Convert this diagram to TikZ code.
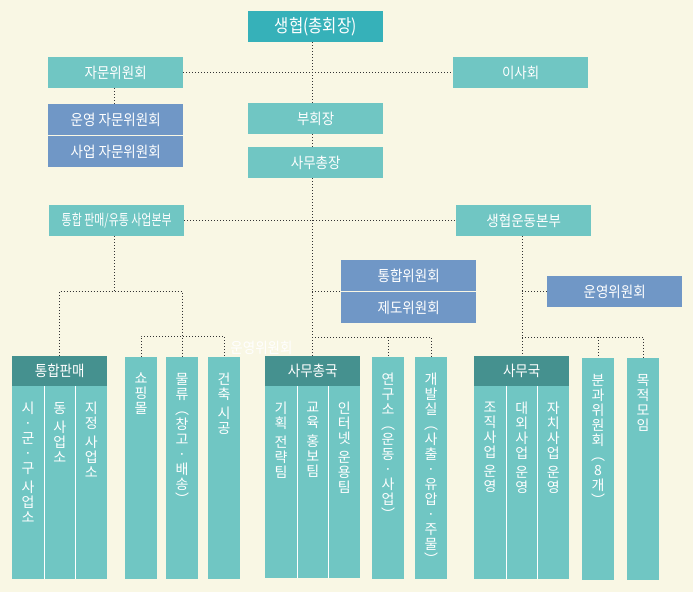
\documentclass[tikz,border=0pt]{standalone}
\usepackage{fontspec}
\newfontfamily\kr{Noto Sans CJK KR}
\usetikzlibrary{calc}
\definecolor{bg}{HTML}{F9F7E4}
\definecolor{topc}{HTML}{36B1B9}
\definecolor{lt}{HTML}{70C6C3}
\definecolor{bl}{HTML}{7097C6}
\definecolor{dk}{HTML}{45918F}
\definecolor{ln}{HTML}{333333}
\newcommand\hx[1]{\scalebox{0.9}[1]{#1}}
\begin{document}
\begin{tikzpicture}[x=1pt,y=-1pt,
  box/.style={rectangle, inner sep=0, minimum width=135pt, minimum height=31pt, anchor=north west, text=white, font=\kr\fontsize{15}{18}\selectfont},
  lbox/.style={box, fill=lt},
  bbox/.style={box, fill=bl},
  hdr/.style={rectangle, inner sep=0, minimum width=95pt, minimum height=30pt, anchor=north west, fill=dk, text=white, font=\kr\fontsize{15}{18}\selectfont},
  col/.style={rectangle, inner sep=0, minimum width=31.667pt, anchor=north west, fill=lt},
  vtxt/.style={inner sep=0, anchor=north, align=center, text=white, yshift=-16pt, font=\kr\fontsize{14}{15}\selectfont},
  conn/.style={draw=ln, line width=1pt, dash pattern=on 1pt off 2pt},
  divl/.style={draw=white, line width=1pt}]
\useasboundingbox (0,0) rectangle (693,592);
\fill[bg] (0,0) rectangle (693,592);

% ghost text
\node[text=white, inner sep=0, font=\kr\fontsize{15}{18}\selectfont] (ghost) at (261.5,348) {\hx{운영위원회}};

% upper boxes
\node[box, fill=topc, font=\kr\fontsize{18}{20}\selectfont] (top) at (248,11) {\scalebox{0.86}[1]{생협(총회장)}};
\node[lbox] (jamun) at (48,57) {\hx{자문위원회}};
\node[lbox] (isa) at (453,57) {\hx{이사회}};
\node[bbox] (ujamun) at (48,104) {\hx{운영 자문위원회}};
\node[bbox] (sjamun) at (48,136) {\hx{사업 자문위원회}};
\node[lbox] (buhoe) at (248,103) {\hx{부회장}};
\node[lbox] (samu) at (248,147) {\hx{사무총장}};
\node[lbox] (tonghap) at (49,205) {\scalebox{0.73}[1]{통합 판매/유통 사업본부}};
\node[lbox] (undong) at (456,205) {\hx{생협운동본부}};
\node[bbox] (tongwi) at (341,260) {\hx{통합위원회}};
\node[bbox] (jedo) at (341,292) {\hx{제도위원회}};
\node[bbox] (unyoung) at (547,276) {\hx{운영위원회}};

% group 1
\node[hdr] (h1) at (12,356) {\hx{통합판매}};
\node[col, minimum height=193pt] (c11) at (12,386) {};
\node[col, minimum height=193pt] (c12) at (43.667,386) {};
\node[col, minimum height=193pt] (c13) at (75.333,386) {};
\draw[divl] (c11.north east) -- (c11.south east);
\draw[divl] (c12.north east) -- (c12.south east);
\node[vtxt] at (c11.north) {시\\·\\군\\·\\구\\[4pt]사\\업\\소};
\node[vtxt] at (c12.north) {동\\[4pt]사\\업\\소};
\node[vtxt] at (c13.north) {지\\정\\[4pt]사\\업\\소};

\node[col, minimum height=222pt] (shop) at (125,357) {};
\node[col, minimum height=222pt] (mul) at (166,357) {};
\node[col, minimum height=222pt] (geon) at (208,357) {};
\node[vtxt] at (shop.north) {쇼\\핑\\몰};
\node[vtxt] at (mul.north) {물\\류\\︵\\창\\고\\·\\배\\송\\︶};
\node[vtxt] at (geon.north) {건\\축\\[4pt]시\\공};

% group 2
\node[hdr] (h2) at (265,356) {\hx{사무총국}};
\node[col, minimum height=192pt] (c21) at (265,386) {};
\node[col, minimum height=192pt] (c22) at (296.667,386) {};
\node[col, minimum height=192pt] (c23) at (328.333,386) {};
\draw[divl] (c21.north east) -- (c21.south east);
\draw[divl] (c22.north east) -- (c22.south east);
\node[vtxt] at (c21.north) {기\\획\\[4pt]전\\략\\팀};
\node[vtxt] at (c22.north) {교\\육\\[4pt]홍\\보\\팀};
\node[vtxt] at (c23.north) {인\\터\\넷\\[4pt]운\\용\\팀};

\node[col, minimum height=222pt] (yeon) at (372,357) {};
\node[col, minimum height=222pt] (gae) at (415,357) {};
\node[vtxt] at (yeon.north) {연\\구\\소\\︵\\운\\동\\·\\사\\업\\︶};
\node[vtxt] at (gae.north) {개\\발\\실\\︵\\사\\출\\·\\유\\압\\·\\주\\물\\︶};

% group 3
\node[hdr] (h3) at (474,356) {\hx{사무국}};
\node[col, minimum height=193pt] (c31) at (474,386) {};
\node[col, minimum height=193pt] (c32) at (505.667,386) {};
\node[col, minimum height=193pt] (c33) at (537.333,386) {};
\draw[divl] (c31.north east) -- (c31.south east);
\draw[divl] (c32.north east) -- (c32.south east);
\node[vtxt] at (c31.north) {조\\직\\사\\업\\[4pt]운\\영};
\node[vtxt] at (c32.north) {대\\외\\사\\업\\[4pt]운\\영};
\node[vtxt] at (c33.north) {자\\치\\사\\업\\[4pt]운\\영};

\node[col, minimum height=222pt] (bun) at (582,358) {};
\node[col, minimum height=222pt] (mok) at (627,358) {};
\node[vtxt] at (bun.north) {분\\과\\위\\원\\회\\︵\\8\\개\\︶};
\node[vtxt] at (mok.north) {목\\적\\모\\임};

% connectors
\coordinate (sp) at (312,0);
\coordinate (jx) at (114,0);
\coordinate (up) at (522,0);
\draw[conn] (top.south -| sp) -- (buhoe.north -| sp);
\draw[conn] (buhoe.south -| sp) -- (samu.north -| sp);
\draw[conn] (samu.south -| sp) -- (h2.north -| sp);
\draw[conn] (jamun.east) -- (isa.west);
\draw[conn] (jamun.south -| jx) -- (ujamun.north -| jx);
\draw[conn] (tonghap.east) -- (undong.west);
\draw[conn] (sp |- tongwi.south) -- (tongwi.south west);
\draw[conn] (undong.south -| up) -- (h3.north -| up);
\draw[conn] (up |- unyoung.west) -- (unyoung.west);

\coordinate (j1) at (114,291);
\draw[conn] (tonghap.south -| j1) -- (j1);
\draw[conn] (h1.north) |- (j1) -| (mul.north);
\coordinate (j2) at (181.5,336);
\draw[conn] (shop.north) |- (j2) -| (geon.north);
\coordinate (j3) at (312,337);
\draw[conn] (j3) -- (gae.north |- j3) -- (gae.north);
\draw[conn] (yeon.north |- j3) -- (yeon.north);
\coordinate (j4) at (522,337);
\draw[conn] (j4) -- (mok.north |- j4) -- (mok.north);
\draw[conn] (bun.north |- j4) -- (bun.north);
\end{tikzpicture}
\end{document}
